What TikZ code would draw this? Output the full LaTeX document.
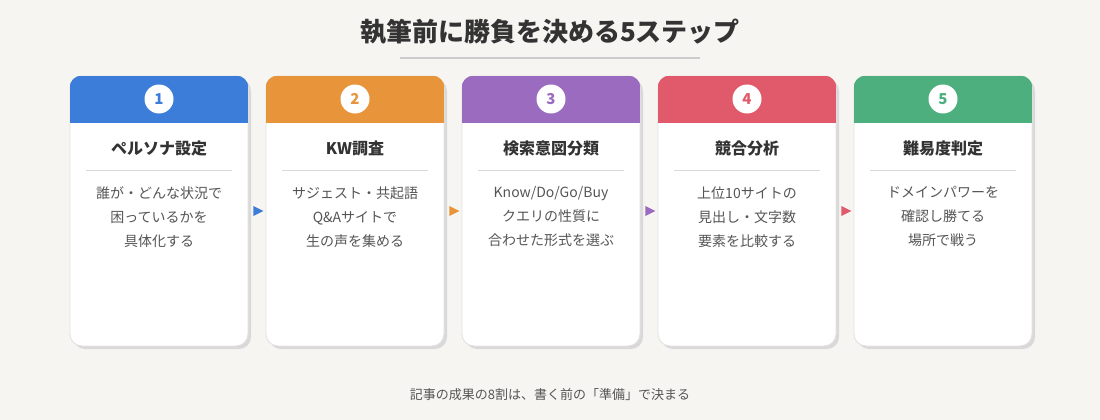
\documentclass[tikz,border=0pt]{standalone}
\usepackage{fontspec}
\setmainfont{Noto Sans CJK JP}
\usetikzlibrary{positioning,shapes.geometric}
\definecolor{bgc}{HTML}{F6F5F2}
\definecolor{c1}{HTML}{3B7DD8}
\definecolor{c2}{HTML}{E8943A}
\definecolor{c3}{HTML}{9B6BBF}
\definecolor{c4}{HTML}{E05A6B}
\definecolor{c5}{HTML}{4CAF7D}
\definecolor{txt}{HTML}{333333}
\definecolor{body}{HTML}{555555}
\begin{document}
\begin{tikzpicture}[x=1pt,y=-1pt]
\tikzstyle{card}=[rectangle, rounded corners=12pt, minimum width=178pt, minimum height=270pt, fill=white, draw=black!12, line width=0.8pt]
\tikzstyle{shadow}=[rectangle, rounded corners=12pt, minimum width=178pt, minimum height=270pt, fill=black!15]
\tikzstyle{num}=[circle, fill=white, minimum size=29pt, inner sep=0pt, font=\fontsize{15}{15}\selectfont\bfseries]
\tikzstyle{head}=[font=\fontsize{16}{16}\selectfont\bfseries, text=txt]
\tikzstyle{desc}=[font=\fontsize{14}{24}\selectfont, text=body, align=center, anchor=north]
\fill[bgc] (0,0) rectangle (1100,420);
\node[font=\fontsize{26}{26}\selectfont\bfseries, text=txt] (title) at (550,32) {執筆前に勝負を決める5ステップ};
\draw[black!20, line width=1.5pt] (400,58) -- (700,58);
\foreach \i/\lab/\txt in {1/ペルソナ設定/{誰が・どんな状況で\\困っているかを\\具体化する},
  2/KW調査/{サジェスト・共起語\\Q\&Aサイトで\\生の声を集める},
  3/検索意図分類/{Know/Do/Go/Buy\\クエリの性質に\\合わせた形式を選ぶ},
  4/競合分析/{上位10サイトの\\見出し・文字数\\要素を比較する},
  5/難易度判定/{ドメインパワーを\\確認し勝てる\\場所で戦う}} {
  \pgfmathsetmacro{\cx}{159+196*(\i-1)}
  \node[shadow] at (\cx+3,214) {};
  \node[card] (card\i) at (\cx,211) {};
  \begin{scope}
    \clip[rounded corners=12pt] (card\i.north west) rectangle ([yshift=-60pt]card\i.south east);
    \fill[c\i] (card\i.north west) rectangle ([yshift=-47pt]card\i.north east);
  \end{scope}
  \node[num, text=c\i] (n\i) at (\cx,99) {\i};
  \node[head] (h\i) at (\cx,148) {\lab};
  \draw[black!15, line width=0.8pt] (\cx-73,170) -- (\cx+73,170);
  \node[desc] (d\i) at (\cx,183) {\txt};
}
\foreach \i [count=\j from 2] in {1,...,4} {
  \fill[c\i] ([xshift=5pt,yshift=-5pt]card\i.east) -- ([xshift=5pt,yshift=5pt]card\i.east) -- ([xshift=15pt]card\i.east) -- cycle;
}
\node[font=\fontsize{13}{13}\selectfont, text=body] (foot) at (550,395) {記事の成果の8割は、書く前の「準備」で決まる};
\end{tikzpicture}
\end{document}
